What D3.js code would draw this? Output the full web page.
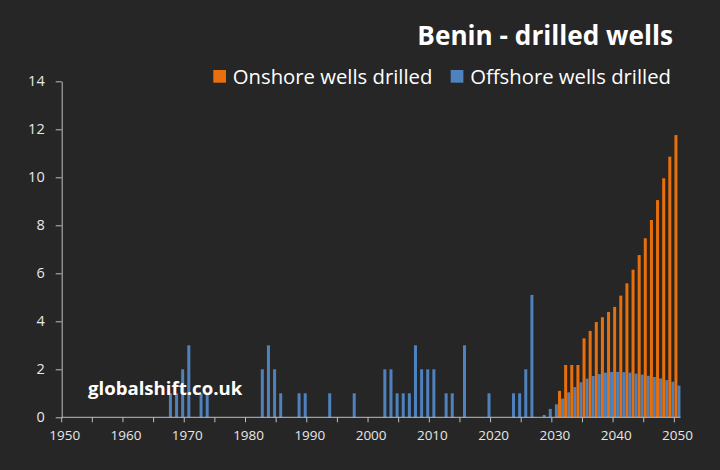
<!DOCTYPE html>
<html>
<head>
<meta charset="utf-8">
<script src="https://cdn.jsdelivr.net/npm/d3@7"></script>
<style>
  html, body { margin: 0; padding: 0; background: #262626; }
  svg { display: block; }
  text { font-family: "Open Sans", sans-serif; }
</style>
</head>
<body>
<svg id="chart" width="720" height="470"></svg>
<script>
// Años (categorías del eje X)
const years = d3.range(1950, 2051);

// Pozos offshore por año, 1950-2050 (filas de 10)
const offshore = [
  0, 0, 0, 0, 0, 0, 0, 0, 0, 0,
  0, 0, 0, 0, 0, 0, 0, 1, 1, 2,
  3, 0, 1, 1, 0, 0, 0, 0, 0, 0,
  0, 0, 2, 3, 2, 1, 0, 0, 1, 1,
  0, 0, 0, 1, 0, 0, 0, 1, 0, 0,
  0, 0, 2, 2, 1, 1, 1, 3, 2, 2,
  2, 0, 1, 1, 0, 3, 0, 0, 0, 1,
  0, 0, 0, 1, 1, 2, 5.1, 0, 0.1, 0.35,
  0.54, 0.78, 1.04, 1.26, 1.46, 1.61, 1.72, 1.8, 1.86, 1.89,
  1.89, 1.88, 1.86, 1.82, 1.78, 1.73, 1.68, 1.62, 1.55, 1.48,
  1.32
];

// Pozos onshore: cero hasta 2030, luego la previsión 2031-2050
const onshoreFrom = 2031;
const onshoreForecast = [
  1.1, 2.18, 2.18, 2.18, 3.29, 3.6, 3.97, 4.17, 4.39, 4.6,
  5.07, 5.58, 6.15, 6.76, 7.46, 8.22, 9.05, 9.96, 10.86, 11.76
];

const yTicks = [0, 2, 4, 6, 8, 10, 12, 14];
const seriesNames = ["Onshore wells drilled", "Offshore wells drilled"];
const colors = ["#e8700c", "#4f81bd"];

const data = years.map((yr, i) => ({
  year: yr,
  onshore: yr >= onshoreFrom ? onshoreForecast[yr - onshoreFrom] : 0,
  offshore: offshore[i]
}));

const svg = d3.select("#chart");
const plotLeft = 61.7, plotRight = 680.5, plotTop = 81.3, plotBottom = 417.3;

const x = d3.scaleBand().domain(years).range([plotLeft, plotRight]).padding(0);
const xSub = d3.scaleBand().domain(["onshore", "offshore"])
  .range([0, x.bandwidth()]).paddingOuter(0.02);
const y = d3.scaleLinear().domain([0, 14]).range([plotBottom, plotTop]);

// Barras agrupadas
const groups = svg.append("g").selectAll("g")
  .data(data)
  .enter()
  .append("g")
  .attr("transform", d => `translate(${x(d.year)},0)`);

groups.selectAll("rect")
  .data(d => [["onshore", d.onshore], ["offshore", d.offshore]].filter(p => p[1] > 0))
  .enter()
  .append("rect")
  .attr("x", p => xSub(p[0]))
  .attr("width", xSub.bandwidth())
  .attr("y", p => y(p[1]))
  .attr("height", p => plotBottom - y(p[1]))
  .attr("fill", p => p[0] === "onshore" ? colors[0] : colors[1]);

// Eje Y
const yAxis = svg.append("g")
  .attr("transform", `translate(${plotLeft},0)`)
  .call(d3.axisLeft(y).tickValues(yTicks).tickSize(6).tickSizeOuter(0).tickPadding(11));
yAxis.select(".domain").attr("stroke", "#bfbfbf");
yAxis.selectAll(".tick line").attr("stroke", "#bfbfbf");
yAxis.selectAll("text").attr("fill", "#e6e6e6").style("font-size", "14.5px")
  .style("font-family", "'Open Sans', sans-serif");

// Eje X: etiquetas cada 10 años, marcas cada 5 categorías
const xAxis = svg.append("g")
  .attr("transform", `translate(0,${plotBottom})`)
  .call(d3.axisBottom(x).tickValues(years.filter(v => v % 10 === 0)).tickSize(0).tickPadding(13));
xAxis.select(".domain").remove();
xAxis.selectAll("text").attr("fill", "#e6e6e6").style("font-size", "13.5px")
  .style("font-family", "'Open Sans', sans-serif");

svg.append("line")
  .attr("x1", plotLeft).attr("x2", plotRight)
  .attr("y1", plotBottom).attr("y2", plotBottom)
  .attr("stroke", "#bfbfbf");

svg.append("g").selectAll("line")
  .data(years.filter(v => v % 5 === 0))
  .enter()
  .append("line")
  .attr("x1", d => x(d)).attr("x2", d => x(d))
  .attr("y1", plotBottom).attr("y2", plotBottom + 5)
  .attr("stroke", "#bfbfbf");

// Título
svg.append("text")
  .attr("x", 673).attr("y", 45)
  .attr("text-anchor", "end")
  .attr("fill", "#ffffff")
  .style("font-size", "26.2px")
  .style("font-weight", "bold")
  .text("Benin - drilled wells");

// Leyenda
const legend = svg.append("g");
const legendX = [213.3, 450.7];
seriesNames.forEach((name, i) => {
  legend.append("rect")
    .attr("x", legendX[i]).attr("y", 70)
    .attr("width", 12.7).attr("height", 12.7)
    .attr("fill", colors[i]);
  legend.append("text")
    .attr("x", legendX[i] + 19.5).attr("y", 83.5)
    .attr("fill", "#ffffff")
    .style("font-size", "20.3px")
    .text(name);
});

// Marca de agua
svg.append("text")
  .attr("x", 88).attr("y", 395)
  .attr("fill", "#ffffff")
  .style("font-size", "18.6px")
  .style("font-weight", "bold")
  .text("globalshift.co.uk");
</script>
</body>
</html>
